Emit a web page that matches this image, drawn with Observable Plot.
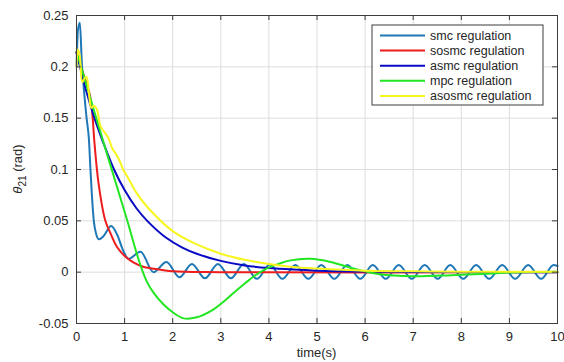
<!DOCTYPE html>
<html>
<head>
<meta charset="utf-8">
<script src="https://cdn.jsdelivr.net/npm/d3@7"></script>
<script src="https://cdn.jsdelivr.net/npm/@observablehq/plot@0.6"></script>
<style>
  html, body { margin: 0; padding: 0; background: #ffffff; }
</style>
</head>
<body>
<div id="chart"></div>
<script>
// ---- data ----
const seriesNames = ["smc regulation", "sosmc regulation", "asmc regulation", "mpc regulation", "asosmc regulation"];
const seriesColors = ["#1f78b6", "#ee1c1c", "#0a0ac4", "#22e622", "#f6f61e"];

const xTicks = [0, 1, 2, 3, 4, 5, 6, 7, 8, 9, 10];
const yTicks = [-0.05, 0, 0.05, 0.1, 0.15, 0.2, 0.25];
const yTickLabels = ["-0.05", "0", "0.05", "0.1", "0.15", "0.2", "0.25"];

const smcT = [0, 0.03, 0.07, 0.11, 0.15, 0.21, 0.26, 0.29, 0.32, 0.36, 0.41, 0.47, 0.56, 0.72, 0.85, 0.98, 1.08, 1.33, 1.60, 1.87, 2.14, 2.40, 2.67, 2.94, 3.21, 3.48, 3.75, 4.02, 4.28, 4.55, 4.82, 5.09, 5.36, 5.63, 5.90, 6.16, 6.43, 6.70, 6.97, 7.24, 7.51, 7.77, 8.04, 8.31, 8.58, 8.85, 9.12, 9.39, 9.66, 9.92, 10.0];
const smcY = [0.200, 0.236, 0.243, 0.205, 0.180, 0.150, 0.128, 0.100, 0.075, 0.050, 0.037, 0.032, 0.035, 0.045, 0.036, 0.020, 0.013, 0.020, 0.000, 0.010, -0.005, 0.008, -0.006, 0.008, -0.006, 0.008, -0.0065, 0.0075, -0.0065, 0.007, -0.0065, 0.007, -0.0065, 0.007, -0.0065, 0.007, -0.0065, 0.007, -0.0065, 0.007, -0.0065, 0.007, -0.0065, 0.007, -0.0065, 0.007, -0.0065, 0.007, -0.0065, 0.007, 0.006];

const sosmcT = [0, 0.10, 0.28, 0.33, 0.37, 0.46, 0.60, 0.71, 0.85, 1.02, 1.20, 1.40, 1.57, 2.00, 3.00, 10.0];
const sosmcY = [0.214, 0.199, 0.172, 0.154, 0.128, 0.086, 0.050, 0.0375, 0.024, 0.015, 0.009, 0.005, 0.0036, 0.0008, 0.0, 0.0];

const asmcT = [0, 0.20, 0.36, 0.55, 0.78, 1.00, 1.25, 1.47, 1.85, 2.20, 2.50, 3.00, 3.50, 4.00, 4.50, 5.00, 6.00, 7.00, 10.0];
const asmcY = [0.214, 0.177, 0.152, 0.127, 0.100, 0.080, 0.062, 0.050, 0.034, 0.024, 0.018, 0.011, 0.0065, 0.004, 0.0025, 0.0015, 0.0006, 0.0002, 0.0];

const mpcT = [0, 0.36, 0.70, 1.05, 1.30, 1.45, 1.60, 1.80, 2.00, 2.23, 2.50, 2.79, 3.05, 3.27, 3.50, 3.69, 3.96, 4.20, 4.45, 4.86, 5.28, 5.80, 6.30, 7.00, 7.80, 8.50, 9.20, 10.0];
const mpcY = [0.215, 0.158, 0.105, 0.051, 0.011, -0.008, -0.020, -0.031, -0.039, -0.045, -0.044, -0.038, -0.029, -0.020, -0.011, -0.004, 0.0036, 0.008, 0.0115, 0.013, 0.010, 0.003, -0.002, -0.004, -0.003, -0.0015, 0.0, 0.0005];

const asosmcT = [0, 0.03, 0.07, 0.12, 0.17, 0.21, 0.26, 0.31, 0.36, 0.42, 0.50, 0.57, 0.66, 0.74, 0.82, 0.90, 0.97, 1.07, 1.25, 1.50, 2.00, 2.50, 3.00, 3.50, 4.00, 4.50, 5.00, 6.00, 7.00, 8.00, 10.0];
const asosmcY = [0.200, 0.217, 0.210, 0.185, 0.189, 0.190, 0.173, 0.160, 0.162, 0.159, 0.142, 0.137, 0.131, 0.121, 0.115, 0.108, 0.100, 0.092, 0.077, 0.062, 0.040, 0.027, 0.018, 0.012, 0.008, 0.005, 0.0035, 0.0015, 0.0008, 0.0005, 0.0003];

// ---- build table ----
const seriesT = [smcT, sosmcT, asmcT, mpcT, asosmcT];
const seriesY = [smcY, sosmcY, asmcY, mpcY, asosmcY];
const rows = [];
seriesNames.forEach((name, i) => {
  seriesT[i].forEach((t, j) => rows.push({series: name, t, v: seriesY[i][j]}));
});
const oscRows = rows.filter(r => r.series === seriesNames[0]);
const smoothRows = rows.filter(r => r.series !== seriesNames[0]);

const W = 564, H = 362, ML = 76, MR = 7, MT = 15, MB = 39;
const innerW = W - ML - MR, innerH = H - MT - MB;
const tickLen = 5;
const frameColor = "#3c3c3c";
const textColor = "#262626";
const font = "'Liberation Sans', Arial, Helvetica, sans-serif";

const svg = Plot.plot({
  width: W, height: H,
  marginLeft: ML, marginRight: MR, marginTop: MT, marginBottom: MB,
  style: {fontFamily: font, fontSize: "13px", color: textColor, background: "#ffffff"},
  x: {domain: [0, 10]},
  y: {domain: [-0.05, 0.25]},
  color: {domain: seriesNames, range: seriesColors},
  marks: [
    Plot.gridX(xTicks, {stroke: "#dddddd", strokeOpacity: 1}),
    Plot.gridY(yTicks, {stroke: "#dddddd", strokeOpacity: 1}),
    Plot.line(oscRows, {x: "t", y: "v", z: "series", stroke: "series", strokeWidth: 2, curve: "monotone-x"}),
    Plot.line(smoothRows, {x: "t", y: "v", z: "series", stroke: "series", strokeWidth: 2, curve: "catmull-rom"}),
    Plot.ruleX(xTicks, {x: d => d, insetTop: innerH - tickLen, stroke: frameColor}),
    Plot.ruleX(xTicks, {x: d => d, insetBottom: innerH - tickLen, stroke: frameColor}),
    Plot.ruleY(yTicks, {y: d => d, insetRight: innerW - tickLen, stroke: frameColor}),
    Plot.ruleY(yTicks, {y: d => d, insetLeft: innerW - tickLen, stroke: frameColor}),
    Plot.frame({stroke: frameColor}),
    Plot.axisX(xTicks, {tickSize: 0, tickPadding: 8, label: null, tickFormat: d => String(d)}),
    Plot.axisY(yTicks, {tickSize: 0, tickPadding: 8, label: null, tickFormat: d => yTickLabels[yTicks.indexOf(d)]})
  ]
});

const s = d3.select(svg);

// x label
s.append("text")
  .attr("x", ML + innerW / 2).attr("y", 357)
  .attr("text-anchor", "middle")
  .attr("fill", textColor)
  .style("font-family", font).style("font-size", "13px")
  .text("time(s)");

// y label with subscript
const yl = s.append("text")
  .attr("transform", `translate(22,${MT + innerH / 2}) rotate(-90)`)
  .attr("text-anchor", "middle")
  .attr("fill", textColor)
  .style("font-family", font).style("font-size", "13px");
yl.append("tspan").style("font-style", "italic").text("θ");
yl.append("tspan").attr("dy", "4").style("font-size", "10px").text("21");
yl.append("tspan").attr("dy", "-4").text(" (rad)");

// legend
const lx = 372, ly = 25, lw = 171, lh = 80, rowH = 15.1;
const lg = s.append("g");
lg.append("rect").attr("x", lx).attr("y", ly).attr("width", lw).attr("height", lh)
  .attr("fill", "#ffffff").attr("stroke", frameColor).attr("stroke-width", 1);
seriesNames.forEach((name, i) => {
  const cy = ly + 10.5 + i * rowH;
  lg.append("line").attr("x1", lx + 8).attr("x2", lx + 53).attr("y1", cy).attr("y2", cy)
    .attr("stroke", seriesColors[i]).attr("stroke-width", 2);
  lg.append("text").attr("x", lx + 58).attr("y", cy).attr("dy", "0.35em")
    .attr("text-anchor", "start")
    .attr("fill", textColor)
    .style("font-family", font).style("font-size", "12.5px")
    .text(name);
});

document.getElementById("chart").appendChild(svg);
</script>
</body>
</html>
